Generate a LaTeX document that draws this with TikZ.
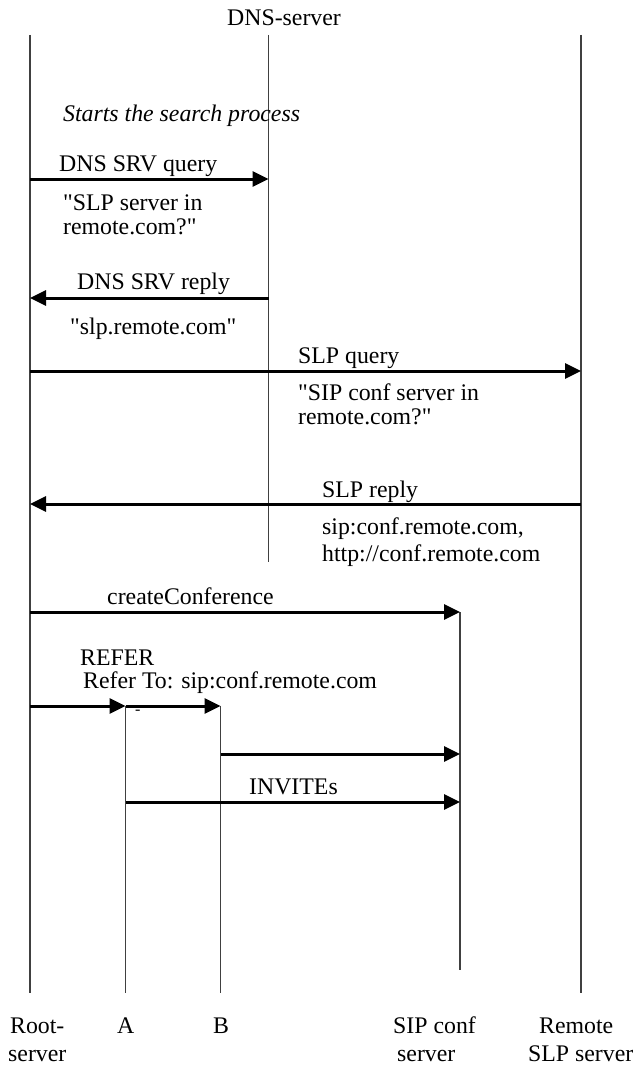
\documentclass[tikz,border=0pt]{standalone}
\usepackage{fontspec}
\setmainfont{Liberation Serif}[Ligatures=TeXOff]
\usetikzlibrary{arrows.meta}
\begin{document}
\begin{tikzpicture}[x=1pt,y=-1pt,
  life/.style={line width=1.3pt, draw=black!75},
  msg/.style={line width=3pt, -{Triangle[length=16pt,width=15pt]}},
  lbl/.style={anchor=base west, inner sep=0pt, font=\fontsize{23.8}{27}\selectfont},
]
\useasboundingbox (0,0) rectangle (637,1065);

% lifeline ends
\coordinate (rootT) at (30,35);   \coordinate (rootB) at (30,993);
\coordinate (dnsT)  at (268.5,35); \coordinate (dnsB)  at (268.5,562);
\coordinate (remT)  at (581,35);  \coordinate (remB)  at (581,993);
\coordinate (sipT)  at (460,612); \coordinate (sipB)  at (460,970);
\coordinate (aT)    at (125.5,706); \coordinate (aB)  at (125.5,993);
\coordinate (bT)    at (220.5,706); \coordinate (bB)  at (220.5,993);

\draw[life] (rootT) -- (rootB);
\draw[life] (dnsT) -- (dnsB);
\draw[life] (remT) -- (remB);
\draw[life] (sipT) -- (sipB);
\draw[life] (aT) -- (aB);
\draw[life] (bT) -- (bB);

% message anchor points
\coordinate (r1) at (30,179);  \coordinate (d1) at (268.5,179);
\coordinate (r2) at (30,298);  \coordinate (d2) at (268.5,298);
\coordinate (r3) at (30,371);  \coordinate (m3) at (581,371);
\coordinate (r4) at (30,504);  \coordinate (m4) at (581,504);
\coordinate (r5) at (30,612);
\coordinate (r6) at (30,706);
\coordinate (b7) at (220.5,754); \coordinate (s7) at (460,754);
\coordinate (a8) at (125.5,802); \coordinate (s8) at (460,802);

\draw[msg] (r1) -- (d1);
\draw[msg] (d2) -- (r2);
\draw[msg] (r3) -- (m3);
\draw[msg] (m4) -- (r4);
\draw[msg] (r5) -- (sipT);
\draw[msg] (r6) -- (aT);
\draw[msg] (aT) -- (bT);
\draw[msg] (b7) -- (s7);
\draw[msg] (a8) -- (s8);

% labels
\node[lbl] (tDNS) at (227,26) {DNS-server};
\node[lbl, font=\fontsize{23.8}{27}\selectfont\itshape] (tStart) at (63,121) {Starts the search process};
\node[lbl] (tq1) at (59,171) {DNS SRV query};
\node[lbl] (tq1a) at (63,210) {"SLP server in};
\node[lbl] (tq1b) at (63,234) {remote.com?"};
\node[lbl] (tr1) at (77,289) {DNS SRV reply};
\node[lbl] (tr1a) at (70,334) {"slp.remote.com"};
\node[lbl] (tq2) at (298,363) {SLP query};
\node[lbl] (tq2a) at (298,400) {"SIP conf server in};
\node[lbl] (tq2b) at (298,424) {remote.com?"};
\node[lbl] (tr2) at (322,497) {SLP reply};
\node[lbl] (tr2a) at (322,534) {sip:conf.remote.com,};
\node[lbl] (tr2b) at (322,561) {http://conf.remote.com};
\node[lbl] (tcc) at (107,604) {createConference};
\node[lbl] (tref) at (80,665) {REFER};
\node[lbl] (treft) at (83,688) {Refer To: sip:conf.remote.com};
\node[lbl, font=\fontsize{16}{18}\selectfont] (tdash) at (135,714) {-};
\node[lbl] (tinv) at (249,794) {INVITEs};

\node[lbl] (nRoot1) at (10,1033) {Root-};
\node[lbl] (nRoot2) at (8,1061) {server};
\node[lbl] (nA) at (117,1033) {A};
\node[lbl] (nB) at (213,1033) {B};
\node[lbl] (nS1) at (393,1033) {SIP conf};
\node[lbl] (nS2) at (397,1061) {server};
\node[lbl] (nR1) at (539,1033) {Remote};
\node[lbl] (nR2) at (528,1061) {SLP server};
\end{tikzpicture}
\end{document}
